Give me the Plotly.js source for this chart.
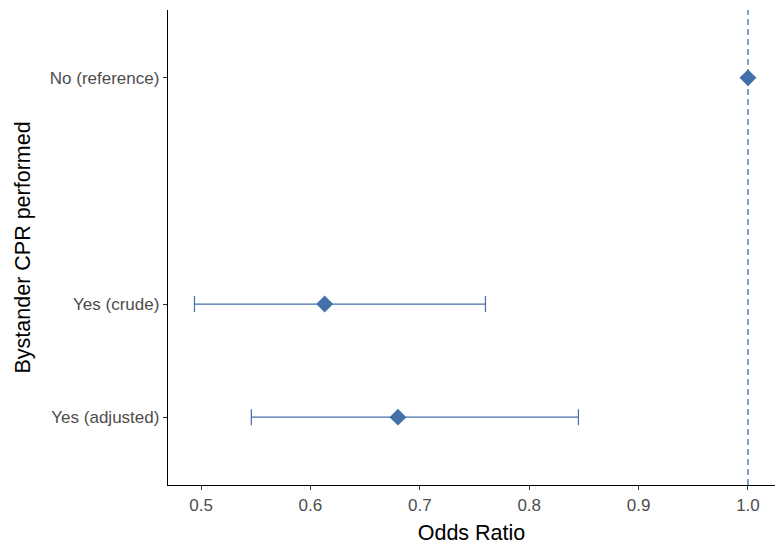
<!DOCTYPE html>
<html>
<head>
<meta charset="utf-8">
<script src="https://cdn.plot.ly/plotly-3.0.1.min.js"></script>
<style>
  html, body { margin: 0; padding: 0; background: #fff; }
  #chart { width: 783px; height: 548px; }
</style>
</head>
<body>
<div id="chart"></div>
<script>
  // forest plot data
  var groups = ['Yes (adjusted)', 'Yes (crude)', 'No (reference)'];
  var groupPos = [1, 2, 4];
  var oddsRatio = [0.680, 0.613, 1.0];
  var ciLower = [0.546, 0.494, 1.0];
  var ciUpper = [0.845, 0.760, 1.0];

  var blue = '#4470aa';

  var errPlus = [], errMinus = [];
  for (var i = 0; i < oddsRatio.length; i++) {
    errPlus.push(ciUpper[i] - oddsRatio[i]);
    errMinus.push(oddsRatio[i] - ciLower[i]);
  }

  var data = [{
    type: 'scatter',
    mode: 'markers',
    x: oddsRatio,
    y: groupPos,
    marker: { symbol: 'diamond', size: 13, color: blue },
    error_x: {
      type: 'data',
      symmetric: false,
      array: errPlus,
      arrayminus: errMinus,
      color: blue,
      thickness: 1.2,
      width: 8
    },
    hoverinfo: 'x+y'
  }];

  var layout = {
    width: 783,
    height: 548,
    margin: { t: 10, b: 63, l: 168, r: 8 },
    paper_bgcolor: '#fff',
    plot_bgcolor: '#fff',
    showlegend: false,
    font: { family: 'Liberation Sans, Arial, sans-serif' },
    xaxis: {
      range: [0.4698, 1.0247],
      tickvals: [0.5, 0.6, 0.7, 0.8, 0.9, 1.0],
      ticktext: ['0.5', '0.6', '0.7', '0.8', '0.9', '1.0'],
      showgrid: false,
      zeroline: false,
      showline: true,
      linecolor: '#000',
      linewidth: 1.2,
      ticks: 'outside',
      ticklen: 4,
      tickcolor: '#333',
      tickfont: { size: 17, color: '#4d4d4d' },
      title: { text: 'Odds Ratio', font: { size: 21.5, color: '#000' }, standoff: 11 }
    },
    yaxis: {
      range: [0.4, 4.6],
      tickvals: groupPos,
      ticktext: groups,
      showgrid: false,
      zeroline: false,
      showline: true,
      linecolor: '#000',
      linewidth: 1.2,
      ticks: 'outside',
      ticklen: 4,
      tickcolor: '#333',
      tickfont: { size: 17, color: '#4d4d4d' }
    },
    // y title as annotation so it can sit further left than plotly puts it
    annotations: [{
      text: 'Bystander CPR performed',
      xref: 'paper', yref: 'paper',
      x: -0.2405, y: 0.5,
      xanchor: 'center', yanchor: 'middle',
      textangle: -90,
      showarrow: false,
      font: { size: 21.5, color: '#000' }
    }],
    shapes: [{
      type: 'line',
      xref: 'x', yref: 'paper',
      x0: 1, x1: 1, y0: 0, y1: 1,
      line: { color: blue, width: 1.3, dash: '6px,4px' },
      layer: 'below'
    }]
  };

  Plotly.newPlot('chart', data, layout, { displayModeBar: false, staticPlot: true });
</script>
</body>
</html>
